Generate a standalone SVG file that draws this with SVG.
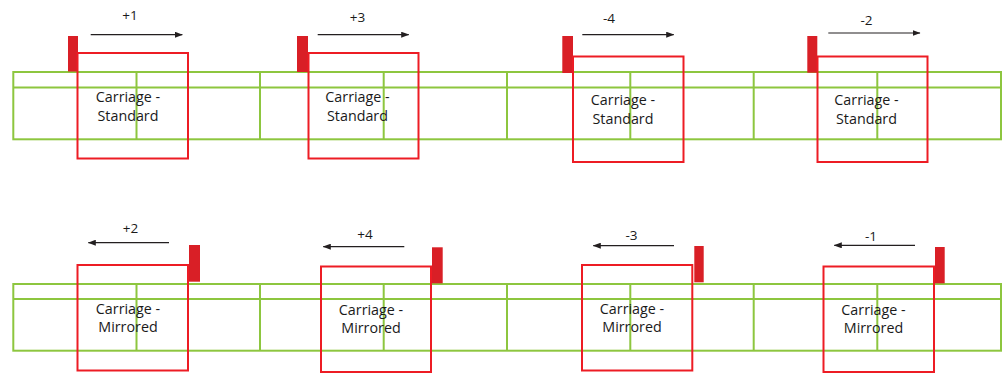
<svg xmlns="http://www.w3.org/2000/svg" width="1003" height="373" viewBox="0 0 1003 373">
<defs>
<style>
.grid{fill:none;stroke:#8dc63f;stroke-width:2}
.box{fill:none;stroke:#ed1c24;stroke-width:2}
.flag{fill:#d91f26}
.lbl{font-family:"Open Sans","Liberation Sans",sans-serif;font-size:14.3px;fill:#1a1a1a;text-anchor:middle}
.num{font-family:"Open Sans","Liberation Sans",sans-serif;font-size:13.5px;fill:#1a1a1a;text-anchor:middle}
.arr{stroke:#231f20;stroke-width:1.2;fill:none;marker-end:url(#ah)}
</style>
<marker id="ah" viewBox="0 0 8 6" refX="7.5" refY="3" markerWidth="8" markerHeight="6" markerUnits="userSpaceOnUse" orient="auto">
<path d="M0,0 L8,3 L0,6 Z" fill="#231f20"/>
</marker>
</defs>
<rect width="1003" height="373" fill="#ffffff"/>

<g id="track-top">
<rect class="grid" x="13.3" y="72" width="987.7" height="67.3"/>
<line class="grid" x1="13.3" y1="87.5" x2="1001" y2="87.5"/>
<path class="grid" d="M136.5,72V139.3M260,72V139.3M383.7,72V139.3M507,72V139.3M630.3,72V139.3M753.7,72V139.3M877.3,72V139.3"/>
</g>
<g id="track-bottom">
<rect class="grid" x="13.3" y="284" width="987.7" height="66.7"/>
<line class="grid" x1="13.3" y1="299" x2="1001" y2="299"/>
<path class="grid" d="M136.5,284V350.7M260,284V350.7M383.7,284V350.7M507,284V350.7M630.3,284V350.7M753.7,284V350.7M877.3,284V350.7"/>
</g>

<g id="carriage-std-1">
<rect class="flag" x="68" y="36" width="10" height="35.5"/>
<rect class="box" x="77.5" y="53" width="110.5" height="105.5"/>
<text class="lbl" x="128" y="101.5">Carriage -</text>
<text class="lbl" x="128" y="120.5">Standard</text>
</g>
<g id="carriage-std-2">
<rect class="flag" x="297" y="36" width="11" height="36"/>
<rect class="box" x="308.5" y="53" width="110" height="105.5"/>
<text class="lbl" x="357.5" y="101.5">Carriage -</text>
<text class="lbl" x="357.5" y="120.5">Standard</text>
</g>
<g id="carriage-std-3">
<rect class="flag" x="562.3" y="36" width="10.7" height="37"/>
<rect class="box" x="573" y="56.5" width="110.5" height="105.5"/>
<text class="lbl" x="623" y="105">Carriage -</text>
<text class="lbl" x="623" y="124">Standard</text>
</g>
<g id="carriage-std-4">
<rect class="flag" x="807.3" y="36" width="10" height="36.7"/>
<rect class="box" x="817.5" y="56.5" width="110" height="105.5"/>
<text class="lbl" x="866.5" y="105">Carriage -</text>
<text class="lbl" x="866.5" y="124">Standard</text>
</g>

<g id="carriage-mir-1">
<rect class="flag" x="189" y="245" width="11" height="36.7"/>
<rect class="box" x="77.5" y="265" width="110.5" height="105.5"/>
<text class="lbl" x="128" y="313.5">Carriage -</text>
<text class="lbl" x="128" y="332">Mirrored</text>
</g>
<g id="carriage-mir-2">
<rect class="flag" x="432" y="247.3" width="10.7" height="36"/>
<rect class="box" x="321" y="266.5" width="110" height="105.5"/>
<text class="lbl" x="371" y="314.5">Carriage -</text>
<text class="lbl" x="371" y="332.5">Mirrored</text>
</g>
<g id="carriage-mir-3">
<rect class="flag" x="694.3" y="246" width="9.4" height="36.3"/>
<rect class="box" x="582" y="265" width="110.3" height="105.5"/>
<text class="lbl" x="632" y="313.5">Carriage -</text>
<text class="lbl" x="632" y="332">Mirrored</text>
</g>
<g id="carriage-mir-4">
<rect class="flag" x="935" y="247" width="9.7" height="36.3"/>
<rect class="box" x="823.5" y="266.5" width="110.5" height="105.5"/>
<text class="lbl" x="873.5" y="314.5">Carriage -</text>
<text class="lbl" x="873.5" y="332.5">Mirrored</text>
</g>

<g id="connectors">
<line class="arr" x1="90.7" y1="34.7" x2="182.3" y2="34.7"/>
<line class="arr" x1="317.7" y1="34.7" x2="408.7" y2="34.7"/>
<line class="arr" x1="582.3" y1="34.7" x2="673.7" y2="34.7"/>
<line class="arr" x1="828.3" y1="33" x2="920" y2="33"/>
<line class="arr" x1="169" y1="242.7" x2="88.3" y2="242.7"/>
<line class="arr" x1="404.3" y1="246.7" x2="323.3" y2="246.7"/>
<line class="arr" x1="674" y1="245.7" x2="593.3" y2="245.7"/>
<line class="arr" x1="915" y1="245.3" x2="834.3" y2="245.3"/>
</g>

<g id="labels">
<text class="num" x="130" y="19.5">+1</text>
<text class="num" x="357.5" y="22">+3</text>
<text class="num" x="609" y="23">-4</text>
<text class="num" x="866.5" y="25">-2</text>
<text class="num" x="130.5" y="233">+2</text>
<text class="num" x="365" y="239">+4</text>
<text class="num" x="631.5" y="240">-3</text>
<text class="num" x="871" y="241">-1</text>
</g>
</svg>
